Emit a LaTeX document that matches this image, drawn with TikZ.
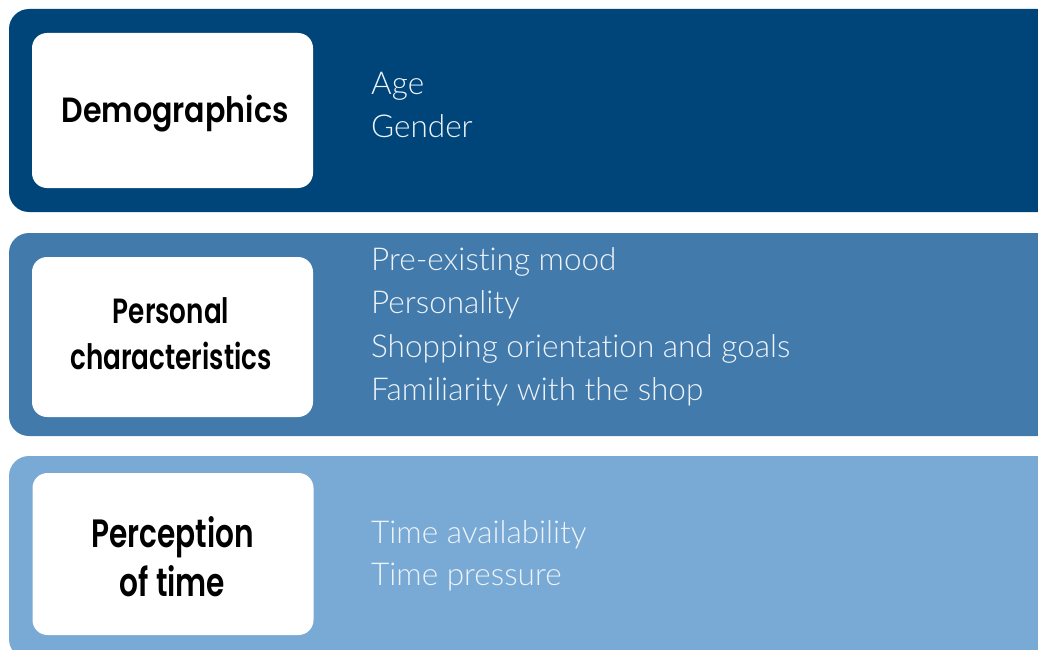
\documentclass[tikz,border=0pt]{standalone}
\usepackage{fontspec}
\newfontfamily\headfont{Poppins SemiBold}[FakeStretch=0.86]
\newfontfamily\narrowheadfont{Poppins SemiBold}[FakeStretch=0.75]
\newfontfamily\itemfont{Lato Light}[Ligatures=NoCommon]
\definecolor{banddark}{HTML}{00457A}
\definecolor{bandmid}{HTML}{417AAB}
\definecolor{bandlight}{HTML}{78AAD5}
\definecolor{itemtext}{HTML}{EEF3F9}

\tikzset{
    band/.style={rounded corners=20pt},
    labelbox/.style={fill=white, rounded corners=15pt, minimum width=281pt, inner sep=0pt},
    heading/.style={anchor=base, inner sep=0pt, font=\headfont\fontsize{35}{45}\selectfont},
    narrowheading/.style={heading, font=\narrowheadfont\fontsize{35}{45}\selectfont},
    bigheading/.style={heading, font=\narrowheadfont\fontsize{39.5}{50}\selectfont},
    item/.style={anchor=base west, inner sep=0pt, text=itemtext,
        font=\itemfont\fontsize{31.5}{43}\selectfont}
}

\begin{document}
\begin{tikzpicture}[x=1pt, y=-1pt]
                        \clip (0,0) rectangle (1038,650);
                        \fill[white] (0,0) rectangle (1038,650);

                        % three bands, running off the right edge
                        \foreach \top/\col in {9/banddark, 233/bandmid, 456/bandlight} {
                            \fill[band, \col] (9,\top) rectangle (1060,\top+203);
                        }

                        % white label boxes
                        \node[labelbox, minimum height=155pt] (demo) at (172.5,110.5) {};
                        \node[labelbox, minimum height=160pt] (pers) at (172.5,337) {};
                        \node[labelbox, minimum height=162pt] (perc) at (173,554) {};

                        \node[heading] (demo-a) at (175,123) {Demographics};
                        \node[narrowheading] (pers-a) at (171,323) {Personal};
                        \node[narrowheading] (pers-b) at (171,369) {characteristics};
                        \node[bigheading] (perc-a) at (172.5,547) {Perception};
                        \node[bigheading] (perc-b) at (172.5,596) {of time};

                        \node[item] (age) at (371,95) {Age};
                        \node[item] (gender) at (371,137) {Gender};

                        \node[item] (mood) at (371,270) {Pre-existing mood};
                        \node[item] (personality) at (371,313) {Personality};
                        \node[item] (shopping) at (371,357) {Shopping orientation and goals};
                        \node[item] (familiar) at (371,400) {Familiarity with the shop};

                        \node[item] (avail) at (371,543) {Time availability};
                        \node[item] (pressure) at (371,585) {Time pressure};
                    \end{tikzpicture}
\end{document}
